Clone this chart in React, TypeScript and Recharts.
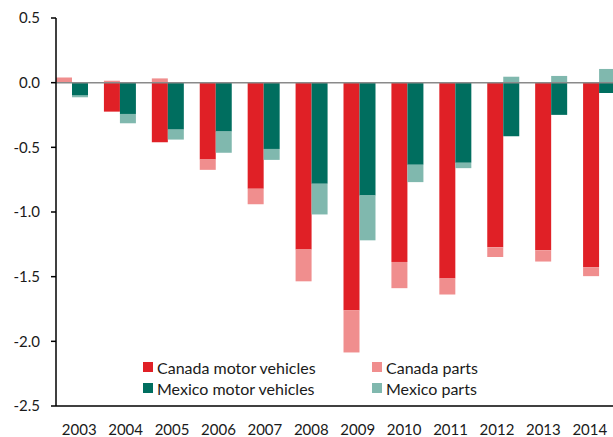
import React from "react";
import {
  BarChart,
  Bar,
  XAxis,
  YAxis,
  Legend,
  ReferenceLine,
} from "recharts";

const years = ["2003", "2004", "2005", "2006", "2007", "2008", "2009", "2010", "2011", "2012", "2013", "2014"];
const canadaVehicles = [0, -0.224, -0.46, -0.594, -0.82, -1.289, -1.759, -1.386, -1.515, -1.273, -1.296, -1.427];
const canadaParts = [0.04, 0.015, 0.033, -0.08, -0.121, -0.247, -0.327, -0.203, -0.123, -0.075, -0.087, -0.069];
const mexicoVehicles = [-0.1, -0.242, -0.363, -0.378, -0.512, -0.782, -0.872, -0.635, -0.62, -0.414, -0.249, -0.08];
const mexicoParts = [-0.013, -0.072, -0.077, -0.164, -0.085, -0.237, -0.347, -0.134, -0.041, 0.046, 0.052, 0.106];
const yTicks = [-2.5, -2, -1.5, -1, -0.5, 0, 0.5];

const data = years.map((year, i) => ({
  year,
  canadaVehicles: canadaVehicles[i],
  canadaParts: canadaParts[i],
  mexicoVehicles: mexicoVehicles[i],
  mexicoParts: mexicoParts[i],
}));

const FONT = "Lato, 'Open Sans', sans-serif";

function LegendBox({ payload }: any) {
  return (
    <div
      style={{
        display: "grid",
        gridTemplateColumns: "229px 200px",
        rowGap: 5,
        fontFamily: FONT,
        fontSize: 16,
        color: "#1a1a1a",
      }}
    >
      {(payload || []).map((p: any) => (
        <div key={p.value} style={{ display: "flex", alignItems: "center", height: 16, whiteSpace: "nowrap" }}>
          <span style={{ width: 10, height: 10, background: p.color, marginRight: 4, display: "inline-block" }} />
          {p.value}
        </div>
      ))}
    </div>
  );
}

export default function App() {
  return (
    <div style={{ position: "absolute", left: 0, top: 0, width: 613, height: 437, overflow: "hidden", background: "#fff" }}>
      <BarChart
        width={613}
        height={437}
        data={data}
        stackOffset="sign"
        barGap={0}
        margin={{ top: 18, right: 0, bottom: 0, left: 0 }}
      >
        <XAxis
          xAxisId="labels"
          dataKey="year"
          height={31}
          axisLine={{ stroke: "#000", strokeWidth: 1.5 }}
          tickLine={false}
          tickSize={0}
          tickMargin={18}
          tick={{ fontSize: 15, fontFamily: FONT, fill: "#1a1a1a" }}
          interval={0}
        />
        <XAxis xAxisId="bars" dataKey="year" hide height={0} padding={{ left: -8, right: -10 }} />
        <XAxis
          xAxisId="top"
          orientation="top"
          dataKey="year"
          height={0}
          tick={false}
          tickLine={false}
          axisLine={{ stroke: "#000", strokeWidth: 1.5 }}
        />
        <YAxis
          width={56}
          domain={[-2.5, 0.5]}
          ticks={yTicks}
          interval={0}
          allowDataOverflow
          tickFormatter={(v: number) => v.toFixed(1)}
          axisLine={{ stroke: "#000", strokeWidth: 1.5 }}
          tickLine={{ stroke: "#000", strokeWidth: 1.5 }}
          tickSize={5}
          tickMargin={11}
          tick={{ fontSize: 15, fontFamily: FONT, fill: "#1a1a1a" }}
        />
        <Bar xAxisId="bars" dataKey="canadaVehicles" name="Canada motor vehicles" stackId="canada" fill="#e02026" barSize={16} isAnimationActive={false} />
        <Bar xAxisId="bars" dataKey="canadaParts" name="Canada parts" stackId="canada" fill="#f08e8e" barSize={16} isAnimationActive={false} />
        <Bar xAxisId="bars" dataKey="mexicoVehicles" name="Mexico motor vehicles" stackId="mexico" fill="#006e5f" barSize={16} isAnimationActive={false} />
        <Bar xAxisId="bars" dataKey="mexicoParts" name="Mexico parts" stackId="mexico" fill="#80b8ae" barSize={16} isAnimationActive={false} />
        <ReferenceLine xAxisId="labels" y={0} stroke="#8a8a8a" strokeWidth={1.5} />
        <Legend
          layout="horizontal"
          verticalAlign="middle"
          align="center"
          content={<LegendBox />}
          wrapperStyle={{ left: 143, top: 359, width: 440, height: 44 }}
        />
      </BarChart>
    </div>
  );
}
